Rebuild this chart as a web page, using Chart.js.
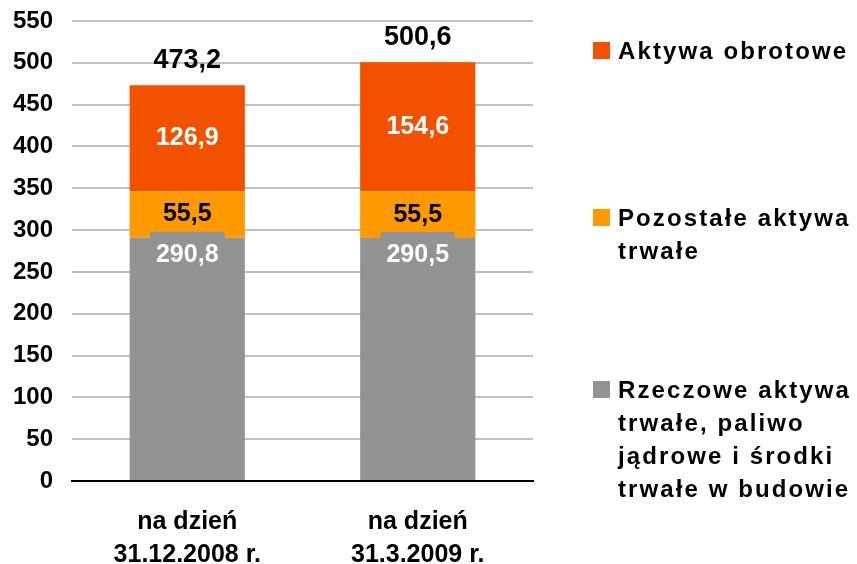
<!DOCTYPE html>
<html>
<head>
<meta charset="utf-8">
<script src="https://cdn.jsdelivr.net/npm/chart.js@4"></script>
<style>
  html, body { margin: 0; padding: 0; background: #fff; }
  #wrap { position: relative; width: 857px; height: 564px; }
  #wrap canvas { position: absolute; left: 0; top: 0; }
  .leg { position: absolute; left: 593px; font: bold 24px "Liberation Sans", Arial, sans-serif;
         letter-spacing: 2.1px; line-height: 33px; color: #000; }
  .leg i { position: absolute; left: 0; top: 8px; width: 17px; height: 17px; }
  .leg span { display: block; margin-left: 25px; white-space: nowrap; }
</style>
</head>
<body>
<div id="wrap">
  <canvas id="wykres" width="857" height="564"></canvas>
  <div class="leg" style="top:34px"><i style="background:#f25200"></i><span>Aktywa obrotowe</span></div>
  <div class="leg" style="top:201px"><i style="background:#ff9900"></i><span>Pozostałe aktywa<br>trwałe</span></div>
  <div class="leg" style="top:373px"><i style="background:#939393"></i><span>Rzeczowe aktywa<br>trwałe, paliwo<br>jądrowe i środki<br>trwałe w budowie</span></div>
</div>
<script>
// ── Dane ──
const kategorie  = [['na dzień', '31.12.2008 r.'], ['na dzień', '31.3.2009 r.']];
const rzeczowe   = [290.8, 290.5];
const pozostale  = [55.5, 55.5];
const obrotowe   = [126.9, 154.6];
const sumy       = [473.2, 500.6];

const FONT = '"Liberation Sans", Arial, sans-serif';
const fmt = v => v.toFixed(1).replace('.', ',');

// ── Etykiety danych ──
const etykiety = {
  id: 'etykiety',
  afterDatasetsDraw(chart) {
    const ctx = chart.ctx;
    ctx.save();
    ctx.textAlign = 'center';
    ctx.textBaseline = 'middle';
    ctx.font = `bold 25px ${FONT}`;
    chart.data.datasets.forEach((ds, i) => {
      chart.getDatasetMeta(i).data.forEach((bar, j) => {
        const txt = fmt(ds.data[j]);
        if (i === 0) {
          const w = ctx.measureText(txt).width + 12;
          ctx.fillStyle = '#939393';
          ctx.fillRect(bar.x - w / 2, bar.y - 6, w, 46);
          ctx.fillStyle = '#fff';
          ctx.fillText(txt, bar.x, bar.y + 17);
        } else {
          ctx.fillStyle = i === 1 ? '#000' : '#fff';
          ctx.fillText(txt, bar.x, (bar.y + bar.base) / 2);
        }
      });
    });
    // sumy nad słupkami
    const top = chart.getDatasetMeta(2).data;
    ctx.font = `bold 27px ${FONT}`;
    ctx.fillStyle = '#000';
    top.forEach((bar, j) => ctx.fillText(fmt(sumy[j]), bar.x, bar.y - 25));
    ctx.restore();
  }
};

new Chart(document.getElementById('wykres'), {
  type: 'bar',
  data: {
    labels: kategorie,
    datasets: [
      { label: 'Rzeczowe aktywa trwałe, paliwo jądrowe i środki trwałe w budowie', data: rzeczowe, backgroundColor: '#939393' },
      { label: 'Pozostałe aktywa trwałe', data: pozostale, backgroundColor: '#ff9900' },
      { label: 'Aktywa obrotowe', data: obrotowe, backgroundColor: '#f25200' },
    ],
  },
  options: {
    responsive: false,
    animation: false,
    layout: { padding: { top: 21, right: 324, left: 0, bottom: 0 } },
    datasets: { bar: { categoryPercentage: 1, barPercentage: 0.5 } },
    plugins: { legend: { display: false }, tooltip: { enabled: false } },
    scales: {
      x: {
        stacked: true,
        grid: { display: false },
        border: { color: '#000', width: 2 },
        ticks: { color: '#000', font: { family: FONT, size: 25, weight: 'bold', lineHeight: 1.3 }, padding: 17 },
        afterFit: s => { s.height = 83; s.paddingLeft = 0; s.paddingRight = 0; },
      },
      y: {
        stacked: true,
        min: 0, max: 550,
        border: { display: false },
        grid: { drawTicks: false, lineWidth: 2, color: c => c.tick.value === 0 ? '#000' : '#c0c0c0' },
        ticks: { stepSize: 50, padding: 19, color: '#000', font: { family: FONT, size: 24, weight: 'bold' } },
        afterFit: s => { s.width = 72; s.paddingTop = 0; s.paddingBottom = 0; },
      },
    },
  },
  plugins: [etykiety],
});
</script>
</body>
</html>
